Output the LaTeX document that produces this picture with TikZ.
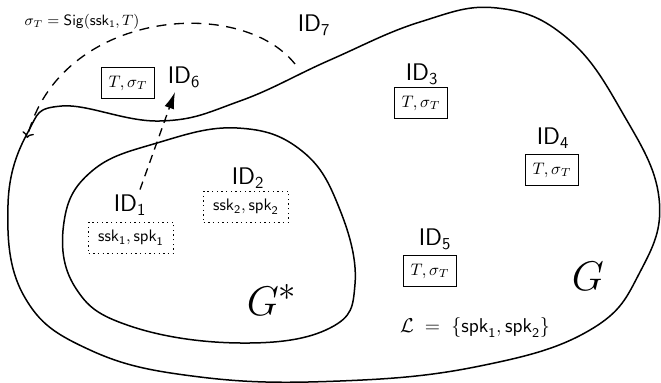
\documentclass[tikz,border=0pt]{standalone}
\usepackage{amsmath}
\usetikzlibrary{arrows.meta}
\begin{document}
\begin{tikzpicture}[x=.6pt,y=-.6pt,
		idlabel/.style={font=\Large,inner sep=0pt},
		sigbox/.style={draw,line width=.7pt,minimum width=32pt,minimum height=18.6pt,inner sep=2pt},
		keybox/.style={draw,dotted,line width=.8pt,minimum width=51pt,minimum height=18.6pt,inner sep=2pt}]
		\useasboundingbox (0,0) rectangle (661,383);
		% the whole group G
		\draw[line width=.9pt] plot[smooth cycle,tension=.7] coordinates {(8,205) (28,132) (62,106) (160,121) (240,101) (330,60) (420,22) (497,8) (567,38) (622,112) (659,198) (640,272) (590,330) (480,366) (340,381) (200,377) (90,350) (24,296)};
		% the subgroup G*
		\draw[line width=.9pt] plot[smooth cycle,tension=.7] coordinates {(64,222) (92,171) (157,143) (237,128) (302,151) (340,210) (355,284) (330,328) (240,343) (130,326) (75,287)};
		\node at (272,300) {\Huge $G^*$};
		\node at (588,276) {\Huge $G$};
		\node[idlabel] (id1) at (130,205) {$\mathsf{ID}_{\mathsf{1}}$};
		\node[keybox] (k1) at (131,238) {$\mathsf{ssk}_{\mathsf{1}}, \mathsf{spk}_{\mathsf{1}}$};
		\node[idlabel] (id2) at (248,178) {$\mathsf{ID}_{\mathsf{2}}$};
		\node[keybox] (k2) at (246,207) {$\mathsf{ssk}_{\mathsf{2}}, \mathsf{spk}_{\mathsf{2}}$};
		\node[idlabel] (id3) at (422,74) {$\mathsf{ID}_{\mathsf{3}}$};
		\node[sigbox] (s3) at (421,103) {$T,\sigma_T$};
		\node[idlabel] (id4) at (553,138) {$\mathsf{ID}_{\mathsf{4}}$};
		\node[sigbox] (s4) at (552,170) {$T,\sigma_T$};
		\node[idlabel] (id5) at (435,239) {$\mathsf{ID}_{\mathsf{5}}$};
		\node[sigbox] (s5) at (430,271) {$T,\sigma_T$};
		\node[idlabel] (id6) at (184,77) {$\mathsf{ID}_{\mathsf{6}}$};
		\node[sigbox] (s6) at (128,83) {$T,\sigma_T$};
		\node[idlabel] (id7) at (314,25) {$\mathsf{ID}_{\mathsf{7}}$};
		\node (list) at (475,328) {\large $\mathcal{L}\;=\;\{\mathsf{spk}_{\mathsf{1}}, \mathsf{spk}_{\mathsf{2}}\}$};
		\node (sig) at (82,22) {\small $\sigma_T = \mathsf{Sig}(\mathsf{ssk}_{\mathsf{1}}, T)$};
		% signing and passing the signature on
		\coordinate (tip) at (175,92);
		\draw[dash pattern=on 5pt off 3.5pt,line width=.8pt,-{Latex[length=10pt,width=6pt]}] (id1.north) ++(10,-5) -- (tip);
		\coordinate (sigstart) at (295,64);
		\coordinate (sigend) at (27,138);
		\draw[dash pattern=on 6pt off 4.5pt,line width=.8pt,->] (sigstart) .. controls (240,-5) and (60,10) .. (sigend);
	\end{tikzpicture}
\end{document}
